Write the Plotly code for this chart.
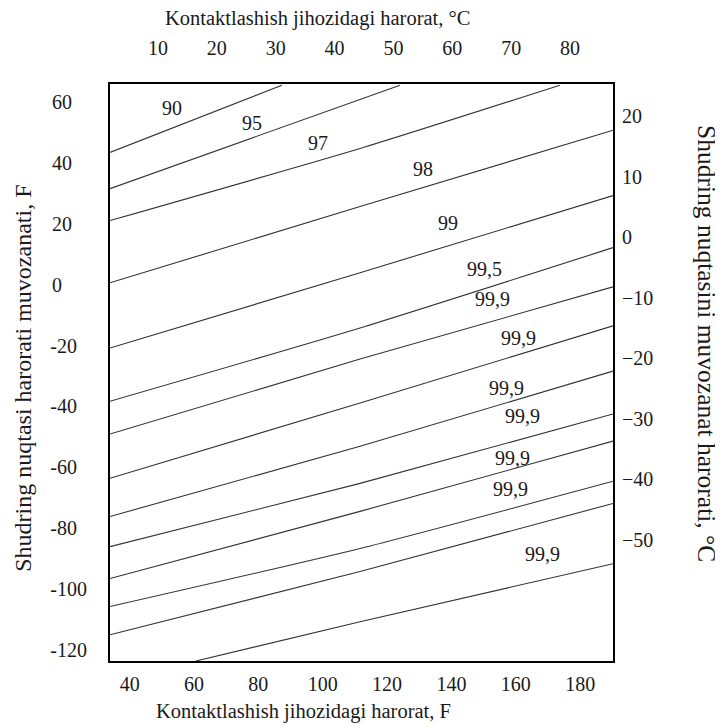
import plotly.graph_objects as go

# ---- tick labels ----
x_ticks_F = [40, 60, 80, 100, 120, 140, 160, 180]
x_ticks_C = [10, 20, 30, 40, 50, 60, 70, 80]
y_ticks_F = [60, 40, 20, 0, -20, -40, -60, -80, -100, -120]
y_ticks_C = [20, 10, 0, -10, -20, -30, -40, -50]

# ---- isolines (contact temperature F, dew point F) ----
L1_x = [33.9, 87.3];            L1_y = [43.5, 65.6]
L2_x = [33.9, 124.0];           L2_y = [31.6, 65.6]
L3_x = [33.9, 111.6, 173.7];    L3_y = [21.1, 44.8, 65.6]
L4_x = [33.9, 111.6, 190.2];    L4_y = [0.65, 25.7, 50.8]
L5_x = [33.9, 111.6, 190.2];    L5_y = [-20.8, 3.95, 29.3]
L6_x = [33.9, 111.6, 190.2];    L6_y = [-38.3, -14.2, 12.2]
L7_x = [33.9, 111.6, 190.2];    L7_y = [-49.1, -24.4, -0.7]
L8_x = [33.9, 111.6, 190.2];    L8_y = [-63.6, -38.9, -13.5]
L9_x = [33.9, 111.6, 190.2];    L9_y = [-76.2, -53.1, -28.4]
L10_x = [33.9, 111.6, 190.2];   L10_y = [-86.1, -65.3, -42.5]
L11_x = [33.9, 111.6, 190.2];   L11_y = [-96.6, -74.5, -51.4]
L12_x = [33.9, 111.6, 190.2];   L12_y = [-105.8, -86.7, -64.6]
L13_x = [33.9, 111.6, 190.2];   L13_y = [-115.1, -94.3, -71.9]
L14_x = [60.6, 111.6, 190.2];   L14_y = [-123.7, -110.8, -91.7]

lines = [(L1_x, L1_y), (L2_x, L2_y), (L3_x, L3_y), (L4_x, L4_y), (L5_x, L5_y),
         (L6_x, L6_y), (L7_x, L7_y), (L8_x, L8_y), (L9_x, L9_y), (L10_x, L10_y),
         (L11_x, L11_y), (L12_x, L12_y), (L13_x, L13_y), (L14_x, L14_y)]

# ---- isoline labels (text, x F, y F) ----
label_text = ["90", "95", "97", "98", "99", "99,5", "99,9", "99,9", "99,9",
              "99,9", "99,9", "99,9", "99,9"]
label_x = [53.1, 78.0, 98.5, 131.1, 138.9, 150.4, 152.6, 160.7, 157.2,
           162.2, 159.1, 158.2, 168.4]
label_y = [58.0, 53.1, 46.5, 38.2, 20.4, 5.3, -4.6, -17.5, -34.0,
           -43.2, -57.0, -67.3, -88.4]

FONT = "Liberation Serif"
TXT = "#1a1a1a"

fig = go.Figure()
for lx, ly in lines:
    fig.add_trace(go.Scatter(x=lx, y=ly, mode="lines",
                             line=dict(color="#333333", width=1.1, shape="spline",
                                       smoothing=0.6),
                             showlegend=False, hoverinfo="skip"))

# dummy traces to activate secondary axes
fig.add_trace(go.Scatter(x=[None], y=[None], xaxis="x2", yaxis="y", showlegend=False))
fig.add_trace(go.Scatter(x=[None], y=[None], xaxis="x", yaxis="y2", showlegend=False))


def pad_left_aligned(vals):
    # approximate widths in em for a Times-like font
    def w(s):
        return sum(0.333 if c == "-" else 0.5 for c in s)
    strs = [str(v) for v in vals]
    wmax = max(w(s) for s in strs)
    out = []
    for s in strs:
        d = wmax - w(s)
        pad = ""
        while d >= 0.5 - 1e-6:
            pad += "\u2007"
            d -= 0.5
        if d >= 0.25 - 1e-6:
            pad += "\u2008"
            d -= 0.25
        out.append(s + pad)
    return out


tickfont = dict(family=FONT, size=20, color=TXT)

fig.update_layout(
    width=723, height=727,
    margin=dict(l=102, r=118, t=76, b=74),
    plot_bgcolor="white", paper_bgcolor="white",
    xaxis=dict(range=[33.9, 190.2], tickvals=x_ticks_F, showgrid=False, zeroline=False,
               showline=True, mirror=True, linecolor="black", linewidth=2,
               ticks="", tickfont=tickfont, ticklabelstandoff=4),
    xaxis2=dict(range=[1.85, 87.3], overlaying="x", side="top", tickvals=x_ticks_C,
                showgrid=False, zeroline=False, showline=False, ticks="",
                tickfont=tickfont, ticklabelstandoff=24),
    yaxis=dict(range=[-123.7, 66.0], tickvals=y_ticks_F,
               ticktext=pad_left_aligned(y_ticks_F), showgrid=False, zeroline=False,
               showline=True, mirror=True, linecolor="black", linewidth=2,
               ticks="", tickfont=tickfont, ticklabelstandoff=17),
    yaxis2=dict(range=[-70.0, 25.3], overlaying="y", side="right", tickvals=y_ticks_C,
                showgrid=False, zeroline=False, showline=False, ticks="",
                tickfont=tickfont, ticklabelstandoff=8),
)

for t, x, y in zip(label_text, label_x, label_y):
    fig.add_annotation(x=x, y=y, xref="x", yref="y", text=t, showarrow=False,
                       font=dict(family=FONT, size=20, color=TXT))

title_font = dict(family=FONT, size=20.5, color=TXT)
fig.add_annotation(text="Kontaktlashish jihozidagi harorat, °C", xref="paper", yref="paper",
                   x=0.412, y=1.114, xanchor="center", yanchor="middle",
                   showarrow=False, font=title_font)
fig.add_annotation(text="Kontaktlashish jihozidagi harorat, F", xref="paper", yref="paper",
                   x=0.384, y=-0.088, xanchor="center", yanchor="middle",
                   showarrow=False, font=title_font)
fig.add_annotation(text="Shudring nuqtasi harorati muvozanati, F", xref="paper", yref="paper",
                   x=-0.172, y=0.490, xanchor="center", yanchor="middle",
                   showarrow=False, textangle=-90,
                   font=dict(family=FONT, size=24, color=TXT))
fig.add_annotation(text="Shudring nuqtasini muvozanat harorati, °C", xref="paper", yref="paper",
                   x=1.187, y=0.551, xanchor="center", yanchor="middle",
                   showarrow=False, textangle=90,
                   font=dict(family=FONT, size=25.5, color=TXT))

fig.write_html("out.html")
